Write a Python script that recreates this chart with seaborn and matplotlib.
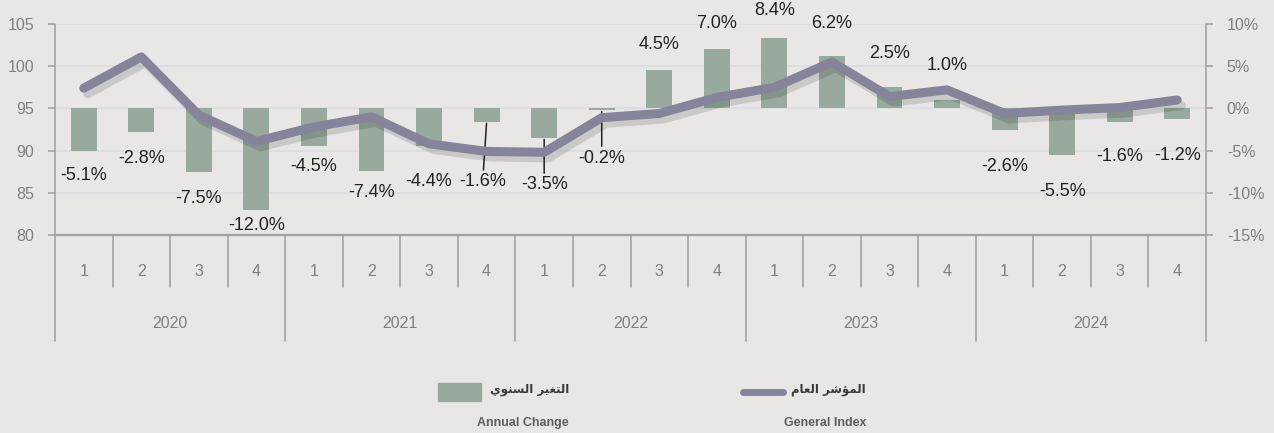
import numpy as np
import pandas as pd
import matplotlib
matplotlib.use("Agg")
import matplotlib.pyplot as plt
import matplotlib.patheffects as pe
from matplotlib.lines import Line2D
from matplotlib.patches import Rectangle
import seaborn as sns

# data
years = ["2020", "2021", "2022", "2023", "2024"]
quarters = ["1", "2", "3", "4"]
general_index = [97.4, 101.1, 94.2, 91.1, 92.8, 94.0, 90.8, 89.9, 89.8, 93.9,
                 94.4, 96.3, 97.5, 100.5, 96.4, 97.2, 94.4, 94.8, 95.1, 96.0]
annual_change = [-5.1, -2.8, -7.5, -12.0, -4.5, -7.4, -4.4, -1.6, -3.5, -0.2,
                 4.5, 7.0, 8.4, 6.2, 2.5, 1.0, -2.6, -5.5, -1.6, -1.2]
label_index_ar = "المؤشر العام"
label_change_ar = "التغير السنوي"
label_index_en = "General Index"
label_change_en = "Annual Change"

# label placement (pixels from bar end) and which labels get a leader line
label_dx = [0, 0, 0, 0, 0, 0, 0, -4, 0, 0, 0, 0, 0, 0, 0, 0, 0, 0, 0, 0]
label_dy = [-24, -26, -27, -16, -20, -22, -36, -60, -47, -48,
            26, 26, 27, 33, 34, 34, -36, -37, -35, -37]
leader = [7, 8, 9]

# colours
bg = "#E8E7E5"
bar_color = "#98A99D"
line_color = "#85849A"
axis_grey = "#A3A3A3"
tick_grey = "#808080"


# minimal arabic shaping (matplotlib has no text shaping)
FORMS = {
    "ا": ("\ufe8d", "\ufe8e", None, None),
    "ر": ("\ufead", "\ufeae", None, None),
    "و": ("\ufeed", "\ufeee", None, None),
    "ؤ": ("\ufe85", "\ufe86", None, None),
    "ل": ("\ufedd", "\ufede", "\ufedf", "\ufee0"),
    "ت": ("\ufe95", "\ufe96", "\ufe97", "\ufe98"),
    "غ": ("\ufecd", "\ufece", "\ufecf", "\ufed0"),
    "ي": ("\ufef1", "\ufef2", "\ufef3", "\ufef4"),
    "س": ("\ufeb1", "\ufeb2", "\ufeb3", "\ufeb4"),
    "ن": ("\ufee5", "\ufee6", "\ufee7", "\ufee8"),
    "م": ("\ufee1", "\ufee2", "\ufee3", "\ufee4"),
    "ش": ("\ufeb5", "\ufeb6", "\ufeb7", "\ufeb8"),
    "ع": ("\ufec9", "\ufeca", "\ufecb", "\ufecc"),
}


def shape_ar(text):
    out = []
    for word in text.split(" "):
        chars = []
        for i, ch in enumerate(word):
            iso, fin, ini, med = FORMS[ch]
            prev = i > 0 and FORMS[word[i - 1]][2] is not None
            nxt = i < len(word) - 1 and ini is not None
            if prev and nxt:
                chars.append(med)
            elif prev:
                chars.append(fin)
            elif nxt:
                chars.append(ini)
            else:
                chars.append(iso)
        out.append("".join(chars))
    return " ".join(out)[::-1]


sns.set_style("white")
plt.rcParams["font.family"] = ["Liberation Sans", "DejaVu Sans"]

df = pd.DataFrame({
    "year": np.repeat(years, len(quarters)),
    "quarter": quarters * len(years),
    "index": general_index,
    "change": annual_change,
})
df["period"] = df["year"] + "-" + df["quarter"]
df["pos"] = np.arange(len(df))

W, H = 1274, 433
fig = plt.figure(figsize=(W / 100, H / 100), dpi=100, facecolor=bg)
ax = fig.add_axes([55 / W, 198 / H, 1151 / W, 211 / H])
ax.set_facecolor(bg)

sns.barplot(data=df, x="period", y="change", color=bar_color, width=0.45,
            saturation=1, linewidth=0, ax=ax, zorder=2)
ax.set_ylim(-15, 10)
ax.set_xlim(-0.5, len(df) - 0.5)
ax.set_axisbelow(True)
ax.yaxis.grid(True, color="#DCDEE2", lw=1.4)
ax.set_xlabel("")
ax.set_ylabel("")

ax2 = ax.twinx()
sns.lineplot(data=df, x="pos", y="index", color=line_color, lw=6.5, ax=ax2,
             solid_capstyle="round", solid_joinstyle="round", zorder=3,
             path_effects=[pe.SimpleLineShadow(offset=(3, -4), shadow_color="black", alpha=0.13),
                           pe.Normal()])
ax2.set_ylim(80, 105)
ax2.set_xlim(-0.5, len(df) - 0.5)
ax2.set_xlabel("")
ax2.set_ylabel("")

# right axis: percent, left axis: index
ax.yaxis.tick_right()
ax2.yaxis.tick_left()
ax.set_yticks(range(-15, 11, 5))
ax.set_yticklabels([f"{v}%" for v in range(-15, 11, 5)])
ax2.set_yticks(range(80, 106, 5))
for a in (ax, ax2):
    a.tick_params(axis="y", length=5, width=1.2, color=axis_grey, labelcolor=tick_grey,
                  labelsize=11.5, pad=10)
    for s in a.spines.values():
        s.set_visible(False)
ax.spines["bottom"].set_visible(True)
ax.spines["bottom"].set_color(axis_grey)
ax.spines["bottom"].set_linewidth(1.6)

# two-level category axis
ax.set_xticks(df["pos"])
ax.set_xticklabels(df["quarter"])
ax.tick_params(axis="x", length=0, labelcolor=tick_grey, labelsize=11.5, pad=21)
xt = ax.get_xaxis_transform()
for b in np.arange(0.5, len(df) - 1, 1):
    bottom = -0.5 if (b + 0.5) % len(quarters) == 0 else -0.246
    ax.plot([b, b], [0, bottom], transform=xt, clip_on=False, color=axis_grey, lw=1.2)
for b in (-0.5, len(df) - 0.5):
    ax.plot([b, b], [1, -0.5], transform=xt, clip_on=False, color=axis_grey, lw=1.2)
for yr, grp in df.groupby("year"):
    ax.text(grp["pos"].mean(), -0.42, yr, transform=xt, ha="center", va="center",
            fontsize=11.5, color=tick_grey)

# data labels
for i, row in df.iterrows():
    props = None
    if i in leader:
        props = dict(arrowstyle="-", color="#222222", lw=1.1, shrinkA=0, shrinkB=1)
    ax.annotate(f"{row['change']:.1f}%", xy=(row["pos"], row["change"]),
                xytext=(label_dx[i], label_dy[i]), textcoords="offset pixels",
                ha="center", va="center", fontsize=13, color="#222222",
                arrowprops=props, zorder=4)

# legend
ar_font = ["DejaVu Sans Condensed", "DejaVu Sans"]
en_font = ["DejaVu Sans Condensed", "Liberation Sans"]
fig.patches.append(Rectangle((438 / W, 1 - 401 / H), 43 / W, 18 / H,
                             transform=fig.transFigure, color=bar_color))
fig.lines.append(Line2D([743 / W, 783 / W], [1 - 392 / H] * 2, transform=fig.transFigure,
                        color=line_color, lw=5, solid_capstyle="round"))
fig.text(569 / W, 1 - 389 / H, shape_ar(label_change_ar), ha="right", va="center",
         fontsize=8.5, weight="bold", color="#3A3A3A", family=ar_font)
fig.text(866 / W, 1 - 389 / H, shape_ar(label_index_ar), ha="right", va="center",
         fontsize=8.5, weight="bold", color="#3A3A3A", family=ar_font)
fig.text(569 / W, 1 - 423 / H, label_change_en, ha="right", va="center",
         fontsize=9, weight="bold", color="#5E5E5E", family=en_font)
fig.text(866 / W, 1 - 423 / H, label_index_en, ha="right", va="center",
         fontsize=9, weight="bold", color="#5E5E5E", family=en_font)

fig.savefig("out.png", dpi=100, facecolor=bg)
